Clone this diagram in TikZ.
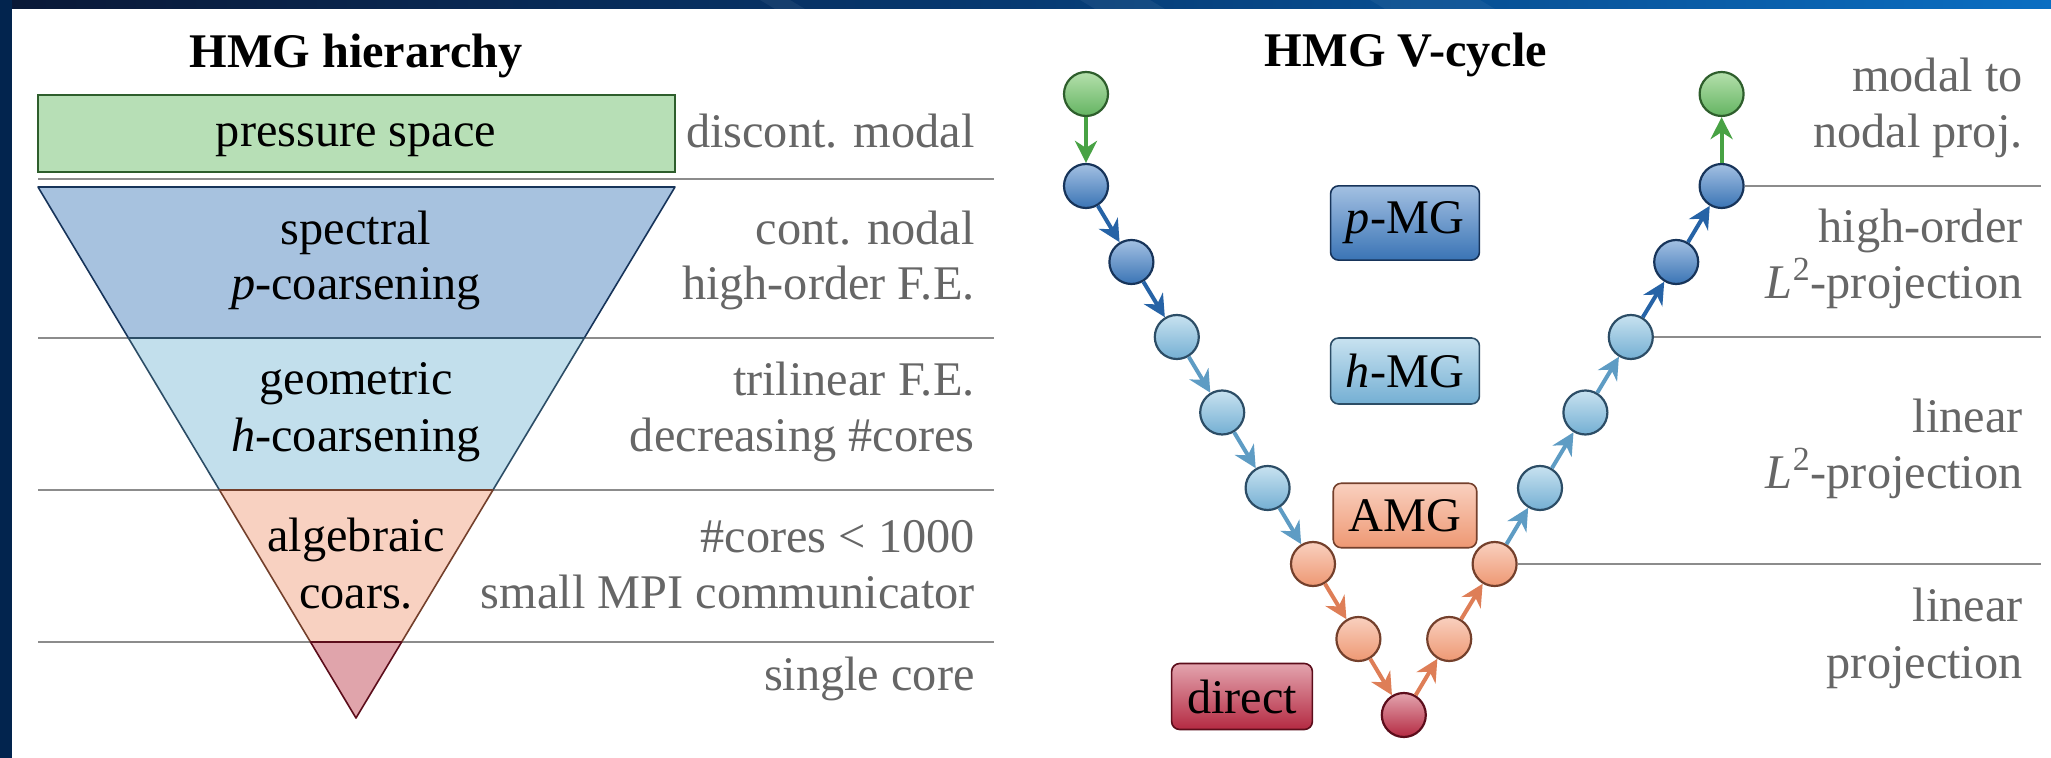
\documentclass[tikz,border=0pt]{standalone}
\usepackage{fontspec}
\setmainfont{Liberation Serif}
\usetikzlibrary{arrows.meta,calc}

% level colours: fill / outline / shading top / shading bottom / arrow
\definecolor{gFill}{HTML}{B7DFB6}\definecolor{gLine}{HTML}{2E5E2C}
\definecolor{gTop}{HTML}{B5E0AC}\definecolor{gBot}{HTML}{64B462}\definecolor{gArr}{HTML}{48A244}
\definecolor{bFill}{HTML}{A7C2DF}\definecolor{bLine}{HTML}{17345A}
\definecolor{bTop}{HTML}{A3C0E2}\definecolor{bBot}{HTML}{3A74B5}\definecolor{bArr}{HTML}{2663A6}
\definecolor{lFill}{HTML}{C2DFEC}\definecolor{lLine}{HTML}{2C4D66}
\definecolor{lTop}{HTML}{C8E2F0}\definecolor{lBot}{HTML}{74AFD3}\definecolor{lArr}{HTML}{5E9CC4}
\definecolor{sFill}{HTML}{F8D1C1}\definecolor{sLine}{HTML}{74402C}
\definecolor{sTop}{HTML}{F9D0BF}\definecolor{sBot}{HTML}{EE9873}\definecolor{sArr}{HTML}{DE7E57}
\definecolor{rFill}{HTML}{E0A4AB}\definecolor{rLine}{HTML}{5C0D1B}
\definecolor{rTop}{HTML}{E3A4AE}\definecolor{rBot}{HTML}{B42A42}
\definecolor{noteGray}{HTML}{666666}
\definecolor{ruleGray}{HTML}{8C8C8C}
\definecolor{bandDark}{HTML}{0A1836}
\definecolor{bandMid}{HTML}{073A72}
\definecolor{bandLight}{HTML}{0A6EC2}
\definecolor{sideBand}{HTML}{02244E}

\tikzset{
  txt/.style={inner sep=0pt, font=\fontsize{24.15pt}{28pt}\selectfont},
  title/.style={txt, anchor=base, font=\fontsize{24.15pt}{28pt}\selectfont\bfseries},
  inlabel/.style={txt, anchor=base},
  note/.style={txt, anchor=base east, text=noteGray},
  rule/.style={draw=ruleGray, line width=1.2pt},
  lvl/.style={circle, line width=1.1pt, minimum size=22pt, inner sep=0pt},
  gC/.style={lvl, draw=gLine, top color=gTop, bottom color=gBot},
  bC/.style={lvl, draw=bLine, top color=bTop, bottom color=bBot},
  lC/.style={lvl, draw=lLine, top color=lTop, bottom color=lBot},
  sC/.style={lvl, draw=sLine, top color=sTop, bottom color=sBot},
  rC/.style={lvl, draw=rLine, top color=rTop, bottom color=rBot},
  tag/.style={txt, rectangle, rounded corners=4pt, line width=0.8pt,
              inner xsep=7.7pt, inner ysep=8pt},
  arr/.style={line width=2pt, -{Stealth[length=11pt,width=11pt,inset=3.5pt]}},
}

\begin{document}
\begin{tikzpicture}[x=0.5pt,y=-0.5pt]
\useasboundingbox (0,0) rectangle (2051,758);
\fill[white] (0,0) rectangle (2051,758);

% slide frame: top strip and left strip
\shade[left color=bandDark, right color=bandLight, middle color=bandMid]
  (0,0) rectangle (2051,9);
\fill[white, opacity=0.06] (760,0) -- (790,0) -- (805,9) -- (775,9) -- cycle;
\fill[white, opacity=0.06] (1080,0) -- (1150,0) -- (1165,9) -- (1095,9) -- cycle;
\fill[white, opacity=0.05] (1370,0) -- (1480,0) -- (1495,9) -- (1385,9) -- cycle;
\fill[sideBand] (0,0) rectangle (12,758);

% ---------------- hierarchy (left) ----------------
\node[title] (tH) at (356,68) {HMG hierarchy};

\coordinate (L0a) at (38,179);  \coordinate (L0b) at (994,179);
\coordinate (L1a) at (38,338);  \coordinate (L1b) at (994,338);
\coordinate (L2a) at (38,490);  \coordinate (L2b) at (994,490);
\coordinate (L3a) at (38,642);  \coordinate (L3b) at (994,642);
\draw[rule] (L0a) -- (L0b);
\draw[rule] (L1a) -- (L1b);
\draw[rule] (L2a) -- (L2b);
\draw[rule] (L3a) -- (L3b);

\draw[draw=gLine, fill=gFill, line width=0.9pt] (38,95) rectangle (675,172);

% inverted triangle split into bands
\coordinate (TL) at (38,187);
\coordinate (TR) at (675,187);
\coordinate (AP) at (356,718);
\coordinate (l1) at ($(TL)!{151/531}!(AP)$);
\coordinate (r1) at ($(TR)!{151/531}!(AP)$);
\coordinate (l2) at ($(TL)!{303/531}!(AP)$);
\coordinate (r2) at ($(TR)!{303/531}!(AP)$);
\coordinate (l3) at ($(TL)!{455/531}!(AP)$);
\coordinate (r3) at ($(TR)!{455/531}!(AP)$);
\draw[draw=bLine, fill=bFill, line width=0.8pt, line join=round] (TL) -- (TR) -- (r1) -- (l1) -- cycle;
\draw[draw=lLine, fill=lFill, line width=0.8pt, line join=round] (l1) -- (r1) -- (r2) -- (l2) -- cycle;
\draw[draw=sLine, fill=sFill, line width=0.8pt, line join=round] (l2) -- (r2) -- (r3) -- (l3) -- cycle;
\draw[draw=rLine, fill=rFill, line width=0.8pt, line join=round] (l3) -- (r3) -- (AP) -- cycle;

\node[inlabel] (pSpace) at (356,147) {pressure space};
\node[inlabel] (spec1) at (356,245) {spectral};
\node[inlabel] (spec2) at (356,300) {\textit{p}-coarsening};
\node[inlabel] (geo1) at (356,395) {geometric};
\node[inlabel] (geo2) at (356,452) {\textit{h}-coarsening};
\node[inlabel] (alg1) at (356,552) {algebraic};
\node[inlabel] (alg2) at (356,609) {coars.};

\node[note] (nA)  at (975,148) {discont. modal};
\node[note] (nB1) at (975,245) {cont. nodal};
\node[note] (nB2) at (975,300) {high-order F.E.};
\node[note] (nC1) at (975,396) {trilinear F.E.};
\node[note] (nC2) at (975,452) {decreasing \#cores};
\node[note] (nD1) at (975,553) {\#cores < 1000};
\node[note] (nD2) at (975,609) {small MPI communicator};
\node[note] (nE)  at (975,690) {single core};

% ---------------- V-cycle (right) ----------------
\node[title] (tV) at (1406,67) {HMG V-cycle};

\node[gC] (g0)  at (1086,94) {};
\node[bC] (d1)  at (1086,186) {};
\node[bC] (d2)  at (1131.4,262) {};
\node[lC] (d3)  at (1176.8,337) {};
\node[lC] (d4)  at (1222.2,412.5) {};
\node[lC] (d5)  at (1267.6,488) {};
\node[sC] (d6)  at (1313,564) {};
\node[sC] (d7)  at (1358.4,639) {};
\node[rC] (bot) at (1403.8,715) {};
\node[sC] (u7)  at (1449.2,639) {};
\node[sC] (u6)  at (1494.6,564) {};
\node[lC] (u5)  at (1540,488) {};
\node[lC] (u4)  at (1585.4,412.5) {};
\node[lC] (u3)  at (1630.8,337) {};
\node[bC] (u2)  at (1676.2,262) {};
\node[bC] (u1)  at (1721.6,186) {};
\node[gC] (g1)  at (1721.6,94) {};

\draw[arr, gArr] (g0) -- (d1);
\draw[arr, bArr] (d1) -- (d2);
\draw[arr, bArr] (d2) -- (d3);
\draw[arr, lArr] (d3) -- (d4);
\draw[arr, lArr] (d4) -- (d5);
\draw[arr, lArr] (d5) -- (d6);
\draw[arr, sArr] (d6) -- (d7);
\draw[arr, sArr] (d7) -- (bot);
\draw[arr, sArr] (bot) -- (u7);
\draw[arr, sArr] (u7) -- (u6);
\draw[arr, lArr] (u6) -- (u5);
\draw[arr, lArr] (u5) -- (u4);
\draw[arr, lArr] (u4) -- (u3);
\draw[arr, bArr] (u3) -- (u2);
\draw[arr, bArr] (u2) -- (u1);
\draw[arr, gArr] (u1) -- (g1);

\coordinate (rx) at (2041,0);
\draw[rule] (u1.east) -- (u1.east -| rx);
\draw[rule] (u3.east) -- (u3.east -| rx);
\draw[rule] (u6.east) -- (u6.east -| rx);

\node[tag, draw=bLine, top color=bTop, bottom color=bBot] (pMG) at (1405,223) {\textit{p}-MG};
\node[tag, draw=lLine, top color=lTop, bottom color=lBot] (hMG) at (1405,371) {\textit{h}-MG};
\node[tag, draw=sLine, top color=sTop, bottom color=sBot] (AMG) at (1405,515.5) {AMG};
\node[tag, draw=rLine, top color=rTop, bottom color=rBot] (dir) at (1242,696.5) {direct};

\node[note] (m1a) at (2023,92)  {modal to};
\node[note] (m1b) at (2023,148) {nodal proj.};
\node[note] (m2a) at (2023,243) {high-order};
\node[note] (m2b) at (2023,299) {\textit{L}\textsuperscript{2}-projection};
\node[note] (m3a) at (2023,433) {linear};
\node[note] (m3b) at (2023,489) {\textit{L}\textsuperscript{2}-projection};
\node[note] (m4a) at (2023,622) {linear};
\node[note] (m4b) at (2023,678) {projection};
\end{tikzpicture}
\end{document}
